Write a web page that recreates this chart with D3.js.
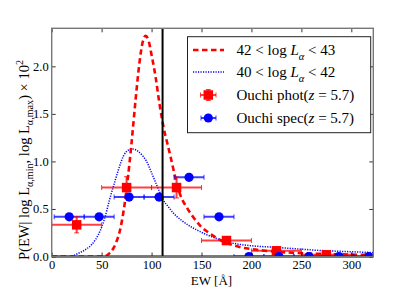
<!DOCTYPE html>
<html><head><meta charset="utf-8">
<script src="https://cdn.jsdelivr.net/npm/d3@7"></script>
<style>body{margin:0;background:#fff}</style>
</head><body><svg id="c" width="415" height="287"></svg>
<script>
// ---- data ----
const xTicks = [0, 50, 100, 150, 200, 250, 300];
const yTicks = [0, 0.5, 1.0, 1.5, 2.0];
const xDomain = [0, 322];
const yDomain = [0, 2.4];
const ewCut = 111;

// 42 < log L < 43 model curve
const redCurveEW = [0, 50, 54, 58, 62, 65, 68, 72, 76, 80, 84, 88, 91, 94, 97, 100, 104, 108, 112, 116, 119, 122, 125.5, 129, 135, 142, 149, 160, 170, 180, 190, 200, 225, 250, 275, 300, 322];
const redCurveP  = [0, 0, 0.005, 0.035, 0.09, 0.16, 0.26, 0.48, 0.8, 1.2, 1.65, 2.05, 2.25, 2.32, 2.27, 2.12, 1.89, 1.6, 1.36, 1.18, 1.05, 0.91, 0.76, 0.64, 0.52, 0.41, 0.32, 0.23, 0.165, 0.125, 0.095, 0.078, 0.05, 0.035, 0.026, 0.02, 0.016];

// 40 < log L < 42 model curve
const blueCurveEW = [0, 18, 22, 26, 30, 35, 40, 44, 48.5, 53, 58, 63, 68, 72, 77, 81, 86, 91, 95, 100, 104, 108, 112, 117, 122, 130, 139, 147, 155, 165, 175, 190, 200, 226, 250, 266, 290, 322];
const blueCurveP  = [0, 0, 0.01, 0.03, 0.05, 0.08, 0.125, 0.18, 0.27, 0.4, 0.6, 0.78, 0.95, 1.06, 1.12, 1.13, 1.11, 1.06, 1.0, 0.88, 0.78, 0.68, 0.59, 0.52, 0.455, 0.38, 0.315, 0.27, 0.23, 0.19, 0.155, 0.125, 0.113, 0.095, 0.077, 0.065, 0.054, 0.042];

// Ouchi phot (z = 5.7)
const photEW   = [25, 75, 125, 175, 225, 275];
const photP    = [0.333, 0.725, 0.725, 0.168, 0.06, 0.018];
const photXErr = [25, 25, 25, 25, 25, 25];
const photYErr = [0.085, 0.115, 0.11, 0.04, 0.02, 0.01];

// Ouchi spec (z = 5.7)
const specEW   = [17.5, 47.5, 77.5, 107.5, 137.5, 167.5, 197.5, 227.5, 257.5, 287.5, 317.5];
const specP    = [0.417, 0.417, 0.625, 0.625, 0.833, 0.417, 0, 0, 0, 0, 0];
const specXErr = [15, 15, 15, 15, 15, 15, 15, 15, 15, 15, 15];

// ---- drawing ----
const svg = d3.select("#c");
const L = 51.7, R = 373.3, T = 28.3, B = 256.5;
const x = d3.scaleLinear().domain(xDomain).range([L, R]);
const y = d3.scaleLinear().domain(yDomain).range([B, T]);
const FONT = "'Liberation Serif', 'DejaVu Serif', serif";
const RED = "#ff0000", BLUE = "#0000ff";

svg.append("rect").attr("width", 415).attr("height", 287).attr("fill", "#fff");
svg.append("clipPath").attr("id", "clip").append("rect")
  .attr("x", L).attr("y", T).attr("width", R - L).attr("height", B - T);
const plot = svg.append("g").attr("clip-path", "url(#clip)");

const line = d3.line().curve(d3.curveMonotoneX);
plot.append("path")
  .attr("d", line(blueCurveEW.map((e, i) => [x(e), y(blueCurveP[i])])))
  .attr("fill", "none").attr("stroke", BLUE).attr("stroke-width", 1.5)
  .attr("stroke-dasharray", "1.2,1.3");
plot.append("path")
  .attr("d", line(redCurveEW.map((e, i) => [x(e), y(redCurveP[i])])))
  .attr("fill", "none").attr("stroke", RED).attr("stroke-width", 2.6)
  .attr("stroke-dasharray", "5.5,3.5");

// error bars
function errX(g, cx, cy, x0, x1, col) {
  g.append("line").attr("x1", x0).attr("x2", x1).attr("y1", cy).attr("y2", cy)
    .attr("stroke", col).attr("stroke-width", 2).attr("stroke-opacity", 0.75);
  [x0, x1].forEach(v => g.append("line").attr("x1", v).attr("x2", v)
    .attr("y1", cy - 2.5).attr("y2", cy + 2.5).attr("stroke", col).attr("stroke-width", 1).attr("stroke-opacity", 0.75));
}
function errY(g, cx, y0, y1, col) {
  g.append("line").attr("x1", cx).attr("x2", cx).attr("y1", y0).attr("y2", y1)
    .attr("stroke", col).attr("stroke-width", 2).attr("stroke-opacity", 0.75);
  [y0, y1].forEach(v => g.append("line").attr("y1", v).attr("y2", v)
    .attr("x1", cx - 2.5).attr("x2", cx + 2.5).attr("stroke", col).attr("stroke-width", 1).attr("stroke-opacity", 0.75));
}
const eb = plot.append("g");
specEW.forEach((e, i) => errX(eb, x(e), y(specP[i]), x(e - specXErr[i]), x(e + specXErr[i]), BLUE));
photEW.forEach((e, i) => {
  errX(eb, x(e), y(photP[i]), x(e - photXErr[i]), x(e + photXErr[i]), RED);
  errY(eb, x(e), y(photP[i] + photYErr[i]), y(photP[i] - photYErr[i]), RED);
});
const SQ = 9.5;
plot.selectAll(".sq").data(photEW).join("rect")
  .attr("x", (d) => x(d) - SQ / 2).attr("y", (d, i) => y(photP[i]) - SQ / 2)
  .attr("width", SQ).attr("height", SQ).attr("fill", RED);
plot.selectAll(".ci").data(specEW).join("circle")
  .attr("cx", (d) => x(d)).attr("cy", (d, i) => y(specP[i])).attr("r", 4.6).attr("fill", BLUE);

// black reference lines
svg.append("line").attr("x1", x(ewCut)).attr("x2", x(ewCut)).attr("y1", T).attr("y2", B)
  .attr("stroke", "#000").attr("stroke-width", 2);
svg.append("line").attr("x1", L).attr("x2", R).attr("y1", y(0)).attr("y2", y(0))
  .attr("stroke", "#000").attr("stroke-width", 2.2);

// axes with inward ticks on all sides
const ax = (gen, tr) => {
  const g = svg.append("g").attr("transform", tr).call(gen);
  g.select(".domain").remove();
  g.selectAll("line").attr("stroke", "#000").attr("stroke-width", 0.8);
  g.selectAll("text").attr("font-family", FONT).attr("font-size", 12.5).attr("fill", "#000");
  return g;
};
ax(d3.axisBottom(x).tickValues(xTicks).tickSize(-4).tickPadding(4).tickFormat(d3.format("d")), `translate(0,${B})`);
ax(d3.axisTop(x).tickValues(xTicks).tickSize(-4).tickFormat(""), `translate(0,${T})`);
ax(d3.axisLeft(y).tickValues(yTicks).tickSize(-4).tickPadding(3).tickFormat(d3.format(".1f")), `translate(${L},0)`);
ax(d3.axisRight(y).tickValues(yTicks).tickSize(-4).tickFormat(""), `translate(${R},0)`);

svg.append("rect").attr("x", L).attr("y", T).attr("width", R - L).attr("height", B - T)
  .attr("fill", "none").attr("stroke", "#777").attr("stroke-width", 1.4);

// rich text helper
function rich(g, segs, fs) {
  let cur = 0;
  segs.forEach(s => {
    const lvl = s.sub ? 1 : s.sup ? -1 : 0;
    const size = lvl ? fs * 0.7 : fs;
    const target = lvl === 1 ? fs * 0.3 : lvl === -1 ? -fs * 0.4 : 0;
    const ts = g.append("tspan").text(s.t).attr("font-size", size).attr("dy", target - cur);
    if (s.i) ts.attr("font-style", "italic");
    cur = target;
  });
}

// axis labels
const xl = svg.append("text").attr("x", 211.5).attr("y", 284.5).attr("text-anchor", "middle")
  .attr("font-family", FONT).attr("font-size", 13);
rich(xl, [{t: "EW [Å]"}], 13);
const yl = svg.append("text").attr("transform", "translate(29,160) rotate(-90)").attr("text-anchor", "middle")
  .attr("font-family", FONT).attr("font-size", 14.5);
rich(yl, [{t: "P(EW| log L"}, {t: "α,min", sub: 1}, {t: ", log L"}, {t: "α,max", sub: 1}, {t: ") × 10"}, {t: "2", sup: 1}, {t: ""}], 14.5);

// legend
const lg = svg.append("g");
lg.append("rect").attr("x", 187.5).attr("y", 36.7).attr("width", 183.2).attr("height", 96)
  .attr("fill", "#fff").attr("stroke", "#222").attr("stroke-width", 1);
const rows = [50, 72, 95, 118];
lg.append("line").attr("x1", 193).attr("x2", 224).attr("y1", rows[0]).attr("y2", rows[0])
  .attr("stroke", RED).attr("stroke-width", 2.6).attr("stroke-dasharray", "5.5,3.5");
lg.append("line").attr("x1", 193).attr("x2", 224).attr("y1", rows[1]).attr("y2", rows[1])
  .attr("stroke", BLUE).attr("stroke-width", 1.5).attr("stroke-dasharray", "1.2,1.3");
errX(lg, 208.3, rows[2], 200.5, 216, RED);
errY(lg, 208.3, rows[2] - 5.5, rows[2] + 5.5, RED);
lg.append("rect").attr("x", 208.3 - SQ / 2).attr("y", rows[2] - SQ / 2).attr("width", SQ).attr("height", SQ).attr("fill", RED);
errX(lg, 208.3, rows[3], 201, 216, BLUE);
lg.append("circle").attr("cx", 208.3).attr("cy", rows[3]).attr("r", 4.6).attr("fill", BLUE);

const labels = [
  [{t: "42 < log "}, {t: "L", i: 1}, {t: "α", i: 1, sub: 1}, {t: " < 43"}],
  [{t: "40 < log "}, {t: "L", i: 1}, {t: "α", i: 1, sub: 1}, {t: " < 42"}],
  [{t: "Ouchi phot("}, {t: "z", i: 1}, {t: " = 5.7)"}],
  [{t: "Ouchi spec("}, {t: "z", i: 1}, {t: " = 5.7)"}]
];
labels.forEach((segs, i) => {
  const t = lg.append("text").attr("x", 236.5).attr("y", rows[i] + 5).attr("font-family", FONT).attr("font-size", 15);
  rich(t, segs, 15);
});
</script></body></html>
